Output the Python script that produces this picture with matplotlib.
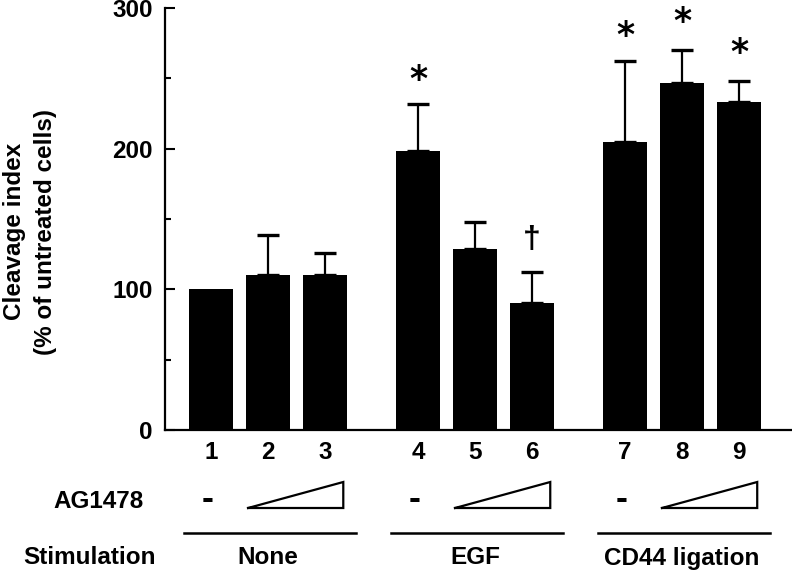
import numpy as np
import matplotlib
matplotlib.use("Agg")
import matplotlib.pyplot as plt
from matplotlib.transforms import blended_transform_factory

plt.rcParams["font.family"] = ["Liberation Sans", "DejaVu Sans"]
plt.rcParams["font.weight"] = "bold"

# data
lanes = ["1", "2", "3", "4", "5", "6", "7", "8", "9"]
groups = ["None", "EGF", "CD44 ligation"]
cleavage = [100, 110.5, 110.5, 198, 129, 90, 205, 247, 233]
err_up = [0, 28, 15, 34, 19, 22, 57, 23, 15]
marks = ["", "", "", "*", "", "\u2020", "*", "*", "*"]
mark_offset = [0, 0, 0, 17, 0, 23, 18, 20, 20]

GROUP_GAP = 3.63
xs = np.array([g * GROUP_GAP + i for g in range(3) for i in range(3)])

fig = plt.figure(figsize=(7.92, 5.72), dpi=100)
ax = fig.add_axes([165 / 792, 1 - 430 / 572, 1 - 165 / 792, 422 / 572])

ax.bar(xs, cleavage, width=0.77, color="black")
yerr = np.vstack([np.zeros(len(err_up)), err_up])
has_err = np.array(err_up) > 0
ax.errorbar(xs[has_err], np.array(cleavage)[has_err], yerr=yerr[:, has_err],
            fmt="none", ecolor="black", elinewidth=1.6, capsize=8, capthick=2.4)

for x, c, e, m, off in zip(xs, cleavage, err_up, marks, mark_offset):
    if not m:
        continue
    if m == "*":
        ax.text(x, c + e + off, m, ha="center", va="center", fontsize=25,
                family="DejaVu Sans", fontweight="bold")
    else:
        ax.text(x, c + e + off, m, ha="center", va="center", fontsize=23,
                fontweight="bold")

ax.set_xlim(-0.807, 10.19)
ax.set_ylim(0, 300)
ax.set_yticks([0, 100, 200, 300])
ax.set_yticks([50, 150, 250], minor=True)
ax.set_xticks(xs)
ax.set_xticklabels(lanes)
ax.tick_params(axis="y", which="major", direction="in", length=7, width=1.5,
               pad=9, labelsize=17.5)
ax.tick_params(axis="y", which="minor", direction="in", length=4, width=1.5)
ax.tick_params(axis="x", length=0, pad=8, labelsize=17.5)
for s in ["top", "right"]:
    ax.spines[s].set_visible(False)
for s in ["left", "bottom"]:
    ax.spines[s].set_linewidth(1.6)

ax.set_ylabel("Cleavage index\n(% of untreated cells)", fontsize=17.5,
              fontweight="bold", linespacing=1.45, va="center")
ax.yaxis.set_label_coords(-0.215, 0.47)

# treatment annotation rows below the axis
tr = blended_transform_factory(ax.transData, fig.transFigure)
y_dash = 1 - 499 / 572
y_tri_lo = 1 - 508 / 572
y_tri_hi = 1 - 482 / 572
y_line = 1 - 533 / 572
y_grp = 1 - 558 / 572
for g, name in enumerate(groups):
    x0 = g * GROUP_GAP
    ax.text(x0 - 0.06, y_dash, "-", transform=tr, ha="center", va="center",
            fontsize=26, clip_on=False)
    tri_x = [x0 + 0.65, x0 + 2.32, x0 + 2.32, x0 + 0.65]
    tri_y = [y_tri_lo, y_tri_hi, y_tri_lo, y_tri_lo]
    ax.plot(tri_x, tri_y, color="black", lw=1.6, transform=tr, clip_on=False,
            solid_joinstyle="miter")
    ax.plot([x0 - 0.48, x0 + 2.55], [y_line, y_line], color="black", lw=1.8,
            transform=tr, clip_on=False)
    ax.text(x0 + 1, y_grp, name, transform=tr, ha="center", va="center",
            fontsize=17.5, clip_on=False)

fig.text(99 / 792, 1 - 502 / 572, "AG1478", ha="center", va="center",
         fontsize=17.5)
fig.text(90 / 792, y_grp, "Stimulation", ha="center", va="center",
         fontsize=17.5)

fig.savefig("out.png", dpi=100)
plt.close(fig)
